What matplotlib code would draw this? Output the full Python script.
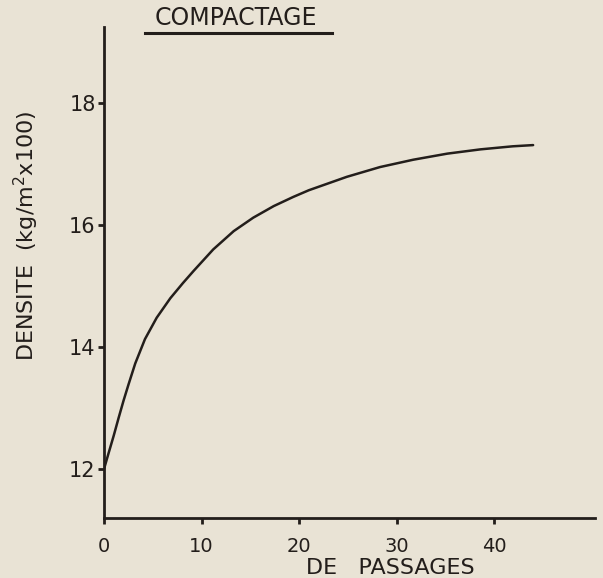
#!/usr/bin/python3
"""Courbe de compactage : densite en fonction du nombre de passages."""
import matplotlib
matplotlib.use("Agg")
import matplotlib.pyplot as plt
from matplotlib.lines import Line2D

# nombre de passages / densite
passages = [0.0, 0.45, 1.0, 1.5, 2.0, 2.5, 3.2, 4.2, 5.4, 6.8, 8.1, 9.2,
            11.2, 13.3, 15.3, 17.4, 19.4, 21.0, 24.9, 28.3, 31.7, 35.2,
            38.6, 41.9, 44.0]
densite = [12.0, 12.25, 12.55, 12.84, 13.12, 13.38, 13.73, 14.13, 14.48,
           14.80, 15.05, 15.25, 15.60, 15.90, 16.12, 16.31, 16.46, 16.57,
           16.79, 16.95, 17.07, 17.17, 17.24, 17.29, 17.31]

x_ticks = [0, 10, 20, 30, 40]
y_ticks = [12, 14, 16, 18]

BG = "#e9e3d5"
INK = "#231e1b"

fig = plt.figure(figsize=(6.03, 5.78), dpi=100, facecolor=BG)
ax = fig.add_axes([0.1725, 0.1038, 0.8145, 0.8495], facecolor=BG)

ax.plot(passages, densite, color=INK, linewidth=1.8, solid_capstyle="round",
        solid_joinstyle="round")

ax.set_xlim(0, 50.36)
ax.set_ylim(11.197, 19.246)

for side in ("top", "right"):
    ax.spines[side].set_visible(False)
for side in ("left", "bottom"):
    ax.spines[side].set_color(INK)
    ax.spines[side].set_linewidth(2.0)

ax.set_xticks(x_ticks)
ax.set_yticks(y_ticks)
ax.tick_params(axis="both", colors=INK, width=2.0, length=4)
ax.tick_params(axis="x", pad=10, labelsize=14)
ax.tick_params(axis="y", pad=2, labelsize=15)
for label in ax.get_xticklabels() + ax.get_yticklabels():
    label.set_color(INK)

ax.set_ylabel("DENSITE  (kg/m$^2$x100)", fontsize=16, color=INK)
ax.yaxis.set_label_coords(-0.128, 0.574)

fig.text(0.647, 0.007, "DE   PASSAGES", fontsize=16, color=INK, ha="center")

# titre souligne
fig.text(0.257, 0.957, "COMPACTAGE", fontsize=17, color=INK, ha="left")
fig.add_artist(Line2D([0.24, 0.55], [0.943, 0.943], color=INK, linewidth=2.2,
                      transform=fig.transFigure))

plt.savefig("out.png", dpi=100, facecolor=BG)
